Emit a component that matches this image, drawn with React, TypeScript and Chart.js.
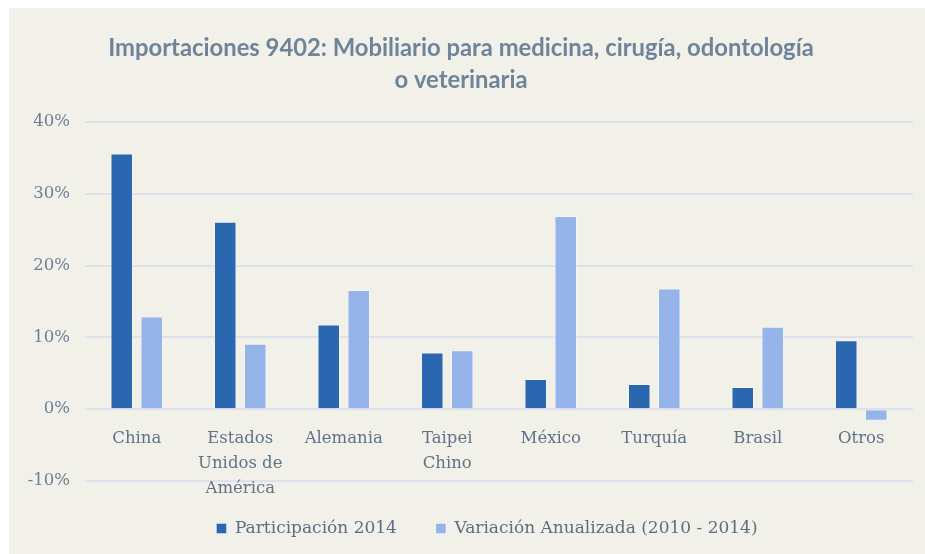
import React, { useEffect, useRef } from "react";
import { Chart, registerables } from "chart.js";

Chart.register(...registerables);

const titleLines = [
  "Importaciones 9402: Mobiliario para medicina, cirugía, odontología",
  "o veterinaria",
];

const categories: (string | string[])[] = [
  "China",
  ["Estados", "Unidos de", "América"],
  "Alemania",
  ["Taipei", "Chino"],
  "México",
  "Turquía",
  "Brasil",
  "Otros",
];

const seriesNames = ["Participación 2014", "Variación Anualizada (2010 - 2014)"];

const participacion2014 = [35.6, 26.1, 11.8, 7.9, 4.2, 3.5, 3.1, 9.6];
const variacionAnualizada = [12.9, 9.1, 16.6, 8.2, 26.9, 16.8, 11.5, -1.6];

const yMin = -10;
const yMax = 40;
const yStep = 10;

const serifFont = "'DejaVu Serif', 'Liberation Serif', serif";

const shiftLegend = {
  id: "shiftLegend",
  afterLayout(chart: any) {
    const lg = chart.legend;
    if (lg) {
      lg.left += 26;
      lg.right += 26;
    }
  },
};

export default function App() {
  const canvasRef = useRef<HTMLCanvasElement | null>(null);

  useEffect(() => {
    if (!canvasRef.current) return;
    const chart = new Chart(canvasRef.current, {
      type: "bar",
      data: {
        labels: categories,
        datasets: [
          {
            label: seriesNames[0],
            data: participacion2014,
            backgroundColor: "#2b67b1",
            borderColor: "rgba(255,255,255,0.35)",
            borderWidth: 1,
          },
          {
            label: seriesNames[1],
            data: variacionAnualizada,
            backgroundColor: "#94b4ea",
            borderColor: "rgba(255,255,255,0.35)",
            borderWidth: 1,
          },
        ],
      },
      options: {
        responsive: false,
        animation: false,
        devicePixelRatio: 1,
        datasets: {
          bar: {
            categoryPercentage: 0.58,
            barPercentage: 0.75,
          },
        },
        layout: {
          padding: { left: 0, right: 12, top: 0, bottom: 7 },
        },
        plugins: {
          title: {
            display: true,
            text: titleLines,
            color: "#6e8498",
            font: {
              family: "Lato, Roboto, sans-serif",
              weight: "bold",
              size: 23.8,
              lineHeight: 1.345,
            },
            padding: { top: 24, bottom: 26 },
          },
          legend: {
            display: true,
            position: "bottom",
            labels: {
              color: "#5b6e83",
              boxWidth: 10,
              boxHeight: 10,
              padding: 39,
              font: { family: serifFont, size: 17 },
            },
          },
          tooltip: { enabled: false },
        },
        scales: {
          x: {
            type: "category",
            position: { y: 0 } as any,
            grid: { display: false, drawTicks: false },
            border: { display: false },
            ticks: {
              color: "#5f7388",
              autoSkip: false,
              maxRotation: 0,
              padding: 17,
              font: { family: serifFont, size: 16.5, lineHeight: 1.52 },
            },
          },
          y: {
            min: yMin,
            max: yMax,
            grid: { color: "#dce2e9", lineWidth: 2, drawTicks: false },
            border: { display: false },
            afterFit: (scale: any) => {
              scale.width = 76;
            },
            ticks: {
              stepSize: yStep,
              padding: 15,
              color: "#6a7f93",
              font: { family: serifFont, size: 16.5 },
              callback: (v: any) => `${v}%`,
            },
          },
        },
      },
      plugins: [shiftLegend],
    });
    return () => chart.destroy();
  }, []);

  return (
    <div
      style={{
        position: "fixed",
        left: 9,
        top: 8,
        right: 0,
        bottom: 0,
        background: "#f2f1e9",
        overflow: "hidden",
      }}
    >
      <canvas ref={canvasRef} width={916} height={546} style={{ display: "block" }} />
    </div>
  );
}
